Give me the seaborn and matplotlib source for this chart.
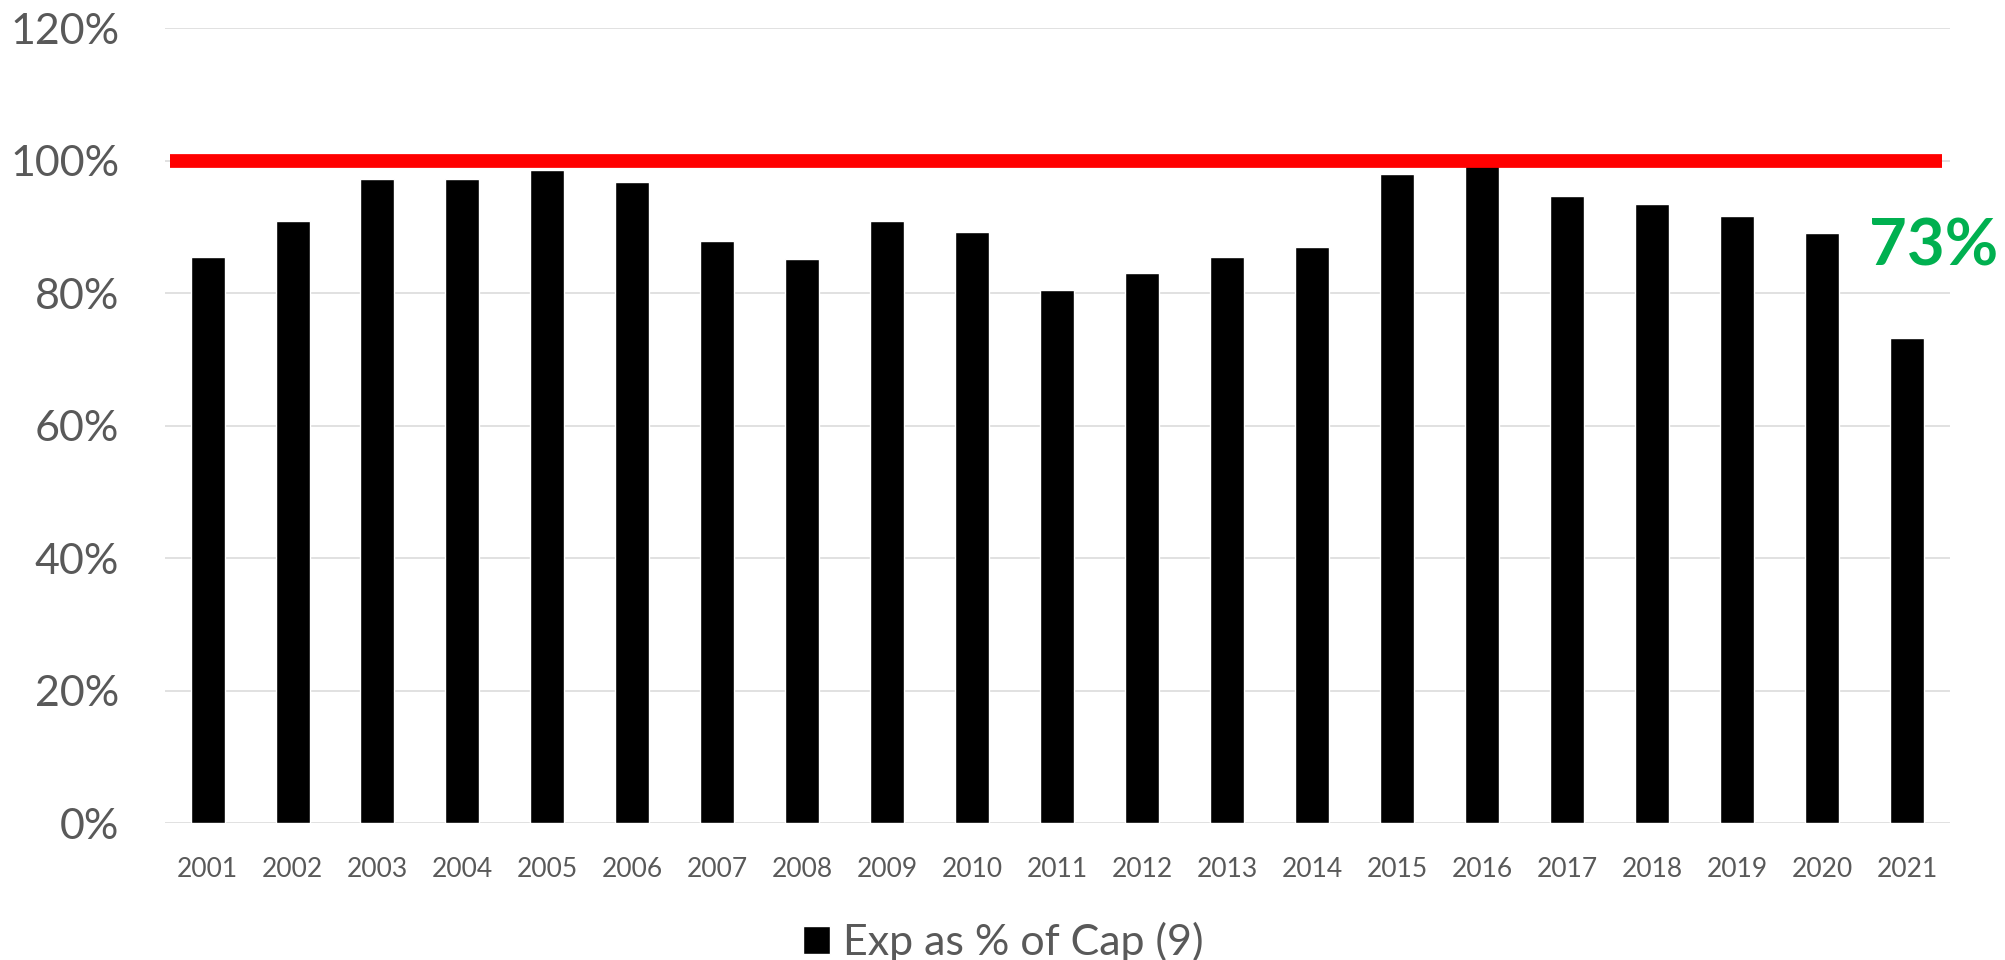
import matplotlib
matplotlib.use("Agg")
import matplotlib.pyplot as plt
import seaborn as sns
import pandas as pd

# === 1. Data ===
years = [str(y) for y in range(2001, 2022)]
exp_pct_cap = [85.5, 90.9, 97.2, 97.2, 98.6, 96.8, 87.8, 85.1, 90.9, 89.2,
               80.5, 83.0, 85.4, 87.0, 98.0, 99.5, 94.7, 93.5, 91.6, 89.0, 73.2]
cap_line = 100
callout = "73%"
series_name = "Exp as % of Cap (9)"
y_ticks = [0, 20, 40, 60, 80, 100, 120]

df = pd.DataFrame({"Year": years, "Pct": exp_pct_cap})

# === 2. Style ===
sns.set_style("white")
plt.rcParams["font.family"] = ["Lato", "DejaVu Sans"]
grey_txt = "#595959"

fig = plt.figure(figsize=(20.06, 9.6), dpi=100)
ax = fig.add_axes([165 / 2006, 1 - 823.3 / 960, 1785 / 2006, (823.3 - 28) / 960])

# === 3. Bars ===
sns.barplot(data=df, x="Year", y="Pct", color="black", saturation=1,
            width=0.40, label=series_name, ax=ax, zorder=2)

# capacity line
ax.axhline(cap_line, xmin=0.003, xmax=0.9955, color="#FF0000", lw=9.9,
           zorder=3, solid_capstyle="butt")

ax.set_ylim(0, 120)
ax.set_xlim(-0.5, len(years) - 0.5)
ax.set_yticks(y_ticks)
ax.set_yticklabels([f"{t}%" for t in y_ticks])
ax.yaxis.grid(True, color="#D9D9D9", lw=1.1, zorder=0)
ax.set_axisbelow(True)
for s in ax.spines.values():
    s.set_visible(False)
ax.set_xlabel("")
ax.set_ylabel("")
ax.tick_params(axis="y", length=0, pad=33, labelsize=31, labelcolor=grey_txt)
ax.tick_params(axis="x", length=0, pad=24, labelsize=19, labelcolor=grey_txt)

# === 4. Callout ===
fig.text(1934 / 2006, 1 - 247 / 960, callout, color="#00B050", fontsize=47,
         fontweight="bold", ha="center", va="center")

# === 5. Legend ===
if ax.legend_:
    ax.legend_.remove()
h, l = ax.get_legend_handles_labels()
fig.legend(h[:1], l[:1], loc="center", bbox_to_anchor=(0.5, 1 - 942 / 960),
           frameon=False, fontsize=31, labelcolor=grey_txt,
           handlelength=0.62, handleheight=0.62, handletextpad=0.3)

plt.savefig("out.png", dpi=100)
